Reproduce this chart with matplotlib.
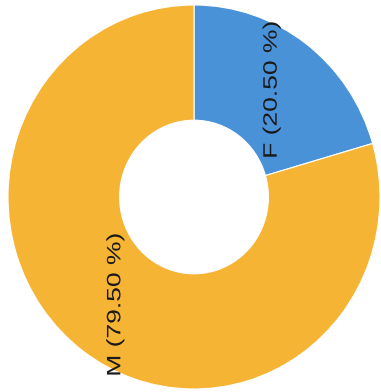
import matplotlib
matplotlib.use("Agg")
import matplotlib.pyplot as plt
import numpy as np
from matplotlib.patheffects import AbstractPathEffect
from matplotlib.transforms import Affine2D

labels = ["F", "M"]
values = [20.50, 79.50]
colors = ["#4A92D8", "#F5B434"]


class Stretch(AbstractPathEffect):
    """Stretch glyphs along the text direction about the text centre."""
    def __init__(self, sx=1.0):
        super().__init__()
        self.sx = sx

    def draw_path(self, renderer, gc, tpath, affine, rgbFace=None):
        ext = tpath.get_extents()
        cx = (ext.x0 + ext.x1) / 2
        t = Affine2D().translate(-cx, 0).scale(self.sx, 1).translate(cx, 0)
        renderer.draw_path(gc, tpath, t + affine, rgbFace)


fig = plt.figure(figsize=(3.81, 3.92), dpi=100)
ax = fig.add_axes([0, 0, 1, 1])

inner = 0.40
wedges, _ = ax.pie(values, colors=colors, startangle=90, counterclock=False,
                   radius=1.0, wedgeprops=dict(width=1 - inner, edgecolor="white",
                                               linewidth=0.8))
ax.set_aspect("auto")
ax.set_xlim(-194 / 186, (381 - 194) / 186)
ax.set_ylim(-(392 - 197) / 192, 197 / 192)
ax.axis("off")

total = sum(values)
start = 90.0
rmid = (1 + inner) / 2
for lab, v in zip(labels, values):
    span = 360.0 * v / total
    mid = np.deg2rad(start - span / 2)
    x, y = rmid * np.cos(mid), rmid * np.sin(mid)
    ax.text(x, y, f"{lab} ({v:.2f} %)", rotation=90, ha="center", va="center",
            fontsize=14, family="Liberation Sans", color="#1a1a1a",
            path_effects=[Stretch(1.36)])
    start -= span

fig.savefig("out.png", dpi=100)
